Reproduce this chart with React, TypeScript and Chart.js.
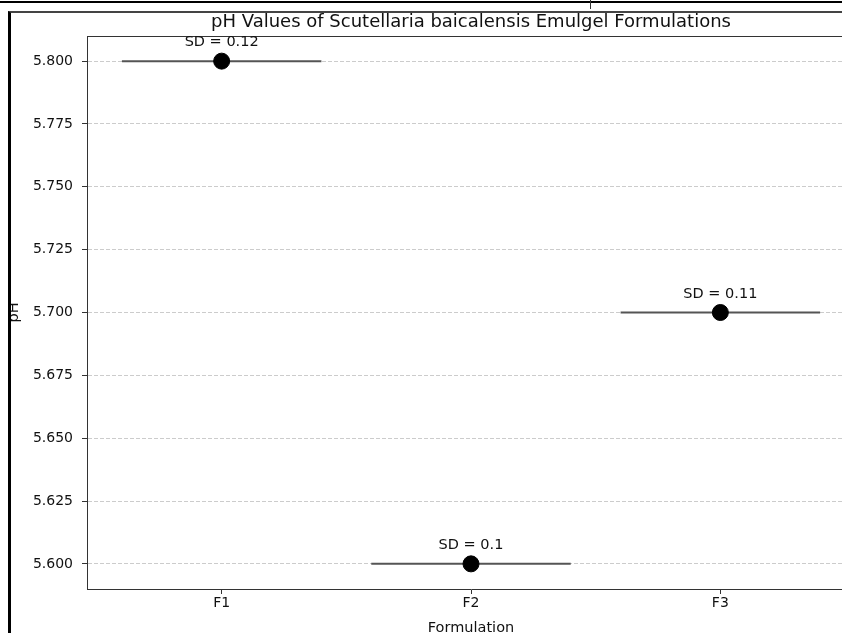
import React, { useEffect, useRef } from 'react';
import { Chart, registerables } from 'chart.js';

Chart.register(...registerables);

// ---- data ----
const categories = ['F1', 'F2', 'F3'];
const phMeans = [5.8, 5.6, 5.7];
const phSD = [0.12, 0.1, 0.11];
const yTickValues = [5.6, 5.625, 5.65, 5.675, 5.7, 5.725, 5.75, 5.775, 5.8];
const chartTitle = 'pH Values of Scutellaria baicalensis Emulgel Formulations';
const xTitle = 'Formulation';
const yTitle = 'pH';

const HALF_WIDTH = 0.4;
const FONT = '"DejaVu Sans", Verdana, sans-serif';

const CANVAS_W = 859;
const CANVAS_H = 620;

export default function App() {
  const ref = useRef<HTMLCanvasElement | null>(null);

  useEffect(() => {
    const canvas = ref.current;
    if (!canvas) return;

    const lineSets = categories.map((c, i) => ({
      type: 'line' as const,
      label: c,
      order: 2,
      data: [
        { x: i - HALF_WIDTH, y: phMeans[i] },
        { x: i + HALF_WIDTH, y: phMeans[i] },
      ],
      borderColor: '#555555',
      borderWidth: 2,
      pointRadius: 0,
      fill: false,
    }));

    const pointSet = {
      type: 'scatter' as const,
      label: 'mean',
      order: 1,
      data: categories.map((_, i) => ({ x: i, y: phMeans[i] })),
      backgroundColor: '#000000',
      borderColor: '#000000',
      borderWidth: 1,
      pointRadius: 8,
      pointHoverRadius: 8,
    };

    const overlay = {
      id: 'overlay',
      afterDatasetsDraw(chart: any) {
        const { ctx, chartArea, scales } = chart;
        const xs = scales.x;
        const ys = scales.y;
        ctx.save();
        // top spine
        ctx.strokeStyle = '#333333';
        ctx.lineWidth = 1;
        ctx.beginPath();
        ctx.moveTo(chartArea.left, Math.round(chartArea.top) + 0.5);
        ctx.lineTo(chartArea.right, Math.round(chartArea.top) + 0.5);
        ctx.stroke();

        // SD labels
        ctx.fillStyle = '#111111';
        ctx.font = `14.5px ${FONT}`;
        ctx.textAlign = 'center';
        ctx.textBaseline = 'alphabetic';
        categories.forEach((_, i) => {
          const px = xs.getPixelForValue(i);
          const py = ys.getPixelForValue(phMeans[i]);
          ctx.fillText(`SD = ${phSD[i]}`, px, py - 15);
        });

        // title
        ctx.font = `18px ${FONT}`;
        ctx.fillText(chartTitle, (chartArea.left + chartArea.right) / 2, 14);

        // x title
        ctx.font = `14.5px ${FONT}`;
        ctx.fillText(xTitle, (chartArea.left + chartArea.right) / 2, 619);

        // y title
        ctx.translate(7, (chartArea.top + chartArea.bottom) / 2);
        ctx.rotate(-Math.PI / 2);
        ctx.fillText(yTitle, 0, 0);
        ctx.restore();
      },
    };

    const chart = new Chart(canvas, {
      type: 'scatter',
      data: { datasets: [...lineSets, pointSet] as any },
      options: {
        animation: false,
        responsive: false,
        devicePixelRatio: 1,
        layout: { padding: { top: 23, right: 15, left: 0, bottom: 0 } },
        plugins: {
          legend: { display: false },
          tooltip: { enabled: false },
          title: { display: false },
        },
        scales: {
          x: {
            type: 'linear',
            min: -0.54,
            max: 2.54,
            afterBuildTicks: (s: any) => {
              s.ticks = categories.map((_, i) => ({ value: i }));
            },
            afterFit: (s: any) => {
              s.height = CANVAS_H - 576;
            },
            ticks: {
              callback: (v: any) => categories[Math.round(Number(v))] ?? '',
              color: '#111111',
              font: { family: FONT, size: 14 },
              padding: 1,
              maxRotation: 0,
              autoSkip: false,
            },
            grid: {
              drawOnChartArea: false,
              drawTicks: true,
              tickLength: 5,
              tickColor: '#333333',
              tickWidth: 1,
            },
            border: { color: '#333333', width: 1 },
          },
          y: {
            type: 'linear',
            min: 5.59,
            max: 5.81,
            afterBuildTicks: (s: any) => {
              s.ticks = yTickValues.map((v) => ({ value: v }));
            },
            afterFit: (s: any) => {
              s.width = 76;
            },
            ticks: {
              callback: (v: any) => Number(v).toFixed(3),
              color: '#111111',
              font: { family: FONT, size: 14 },
              padding: 9,
              autoSkip: false,
            },
            grid: {
              color: '#cccccc',
              lineWidth: 1,
              drawTicks: true,
              tickLength: 5,
              tickColor: '#333333',
              tickBorderDash: [],
              tickWidth: 1,
            },
            border: { color: '#333333', width: 1, dash: [4, 2] },
          },
        },
      } as any,
      plugins: [overlay],
    });

    return () => chart.destroy();
  }, []);

  return (
    <div
      style={{
        position: 'fixed',
        left: 0,
        top: 0,
        width: 842,
        height: 633,
        overflow: 'hidden',
        background: '#ffffff',
      }}
    >
      <div style={{ position: 'absolute', left: 0, top: 1, width: 842, height: 2, background: '#000' }} />
      <div style={{ position: 'absolute', left: 590, top: 0, width: 1, height: 9, background: '#333' }} />
      <div
        style={{
          position: 'absolute',
          left: 8,
          top: 11,
          width: 900,
          height: 700,
          borderLeft: '3px solid #000',
          borderTop: '2px solid #444',
        }}
      />
      <canvas
        ref={ref}
        width={CANVAS_W}
        height={CANVAS_H}
        style={{ position: 'absolute', left: 11, top: 13, width: CANVAS_W, height: CANVAS_H, display: 'block' }}
      />
    </div>
  );
}
